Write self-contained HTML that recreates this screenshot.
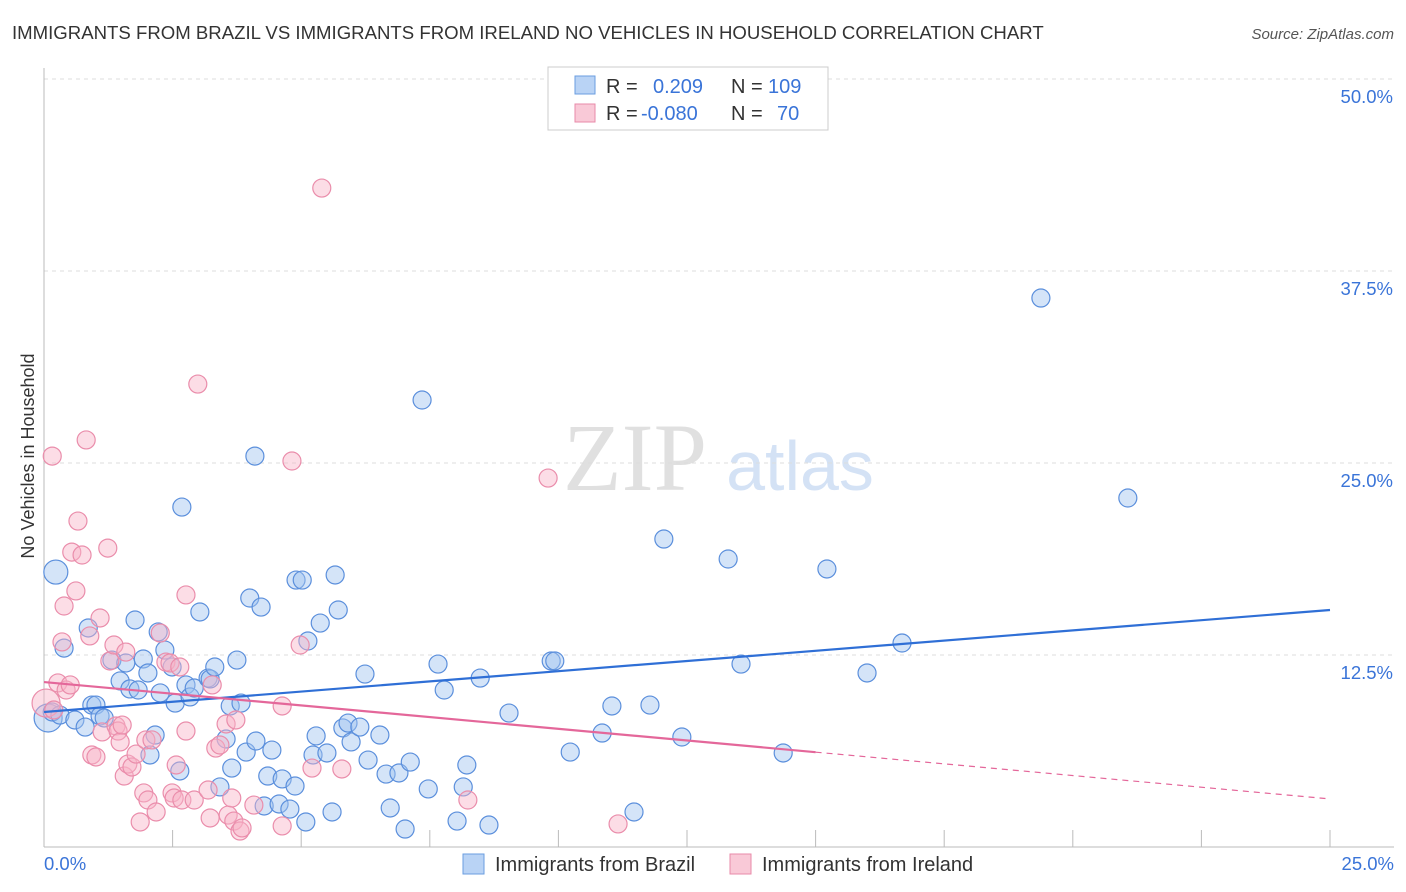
<!DOCTYPE html>
<html><head><meta charset="utf-8"><style>
body{margin:0;background:#fff;font-family:"Liberation Sans",sans-serif}
svg{display:block}
</style></head><body>
<svg id="c" width="1406" height="892">
<text x="12" y="39" font-size="18.6" fill="#333">IMMIGRANTS FROM BRAZIL VS IMMIGRANTS FROM IRELAND NO VEHICLES IN HOUSEHOLD CORRELATION CHART</text>
<text x="1394" y="39" font-size="15" fill="#555" font-style="italic" text-anchor="end">Source: ZipAtlas.com</text>
<text x="635" y="490" font-size="96" fill="#ccc" text-anchor="middle" font-family="Liberation Serif,serif" opacity="0.6">ZIP</text>
<text x="800" y="490" font-size="70" fill="#b8cff0" text-anchor="middle" opacity="0.6">atlas</text>
<text transform="translate(34,456) rotate(-90)" font-size="18" fill="#333" text-anchor="middle">No Vehicles in Household</text>
<g id="grid"></g><g id="axes"></g><g id="pts"></g><g id="lines"></g>
<g>
<rect x="548" y="67" width="280" height="63" fill="#fff" stroke="#ccc"/>
<rect x="575" y="76" width="20" height="18" fill="#b9d3f5" stroke="#6a9ee0"/>
<rect x="575" y="104" width="20" height="18" fill="#f9c9d7" stroke="#e88aa8"/>
<text x="606" y="93" font-size="20" fill="#333">R = <tspan fill="#3a74d8" x="653">0.209</tspan><tspan x="731">N = </tspan><tspan fill="#3a74d8" x="768">109</tspan></text>
<text x="606" y="120" font-size="20" fill="#333">R = <tspan fill="#3a74d8" x="641">-0.080</tspan><tspan x="731">N = </tspan><tspan fill="#3a74d8" x="777">70</tspan></text>
</g>
<g>
<rect x="463" y="854" width="21" height="20" fill="#b9d3f5" stroke="#6a9ee0"/>
<text x="495" y="871" font-size="20" fill="#333">Immigrants from Brazil</text>
<rect x="730" y="854" width="21" height="20" fill="#f9c9d7" stroke="#e88aa8"/>
<text x="762" y="871" font-size="20" fill="#333">Immigrants from Ireland</text>
</g>
<text x="44" y="870" font-size="18.5" fill="#3a74d8">0.0%</text>
<text x="1394" y="870" font-size="18.5" fill="#3a74d8" text-anchor="end">25.0%</text>
</svg>
<script>
const yTicks=[12.5,25,37.5,50];
const yTickLabels=["12.5%","25.0%","37.5%","50.0%"];
const xTicks=[0,2.5,5,7.5,10,12.5,15,17.5,20,22.5,25];
const brazilX=[0.08,0.23,0.16,0.31,0.39,0.60,0.80,0.86,0.93,1.01,1.09,1.17,1.32,1.48,1.59,1.67,1.77,1.83,1.93,2.02,2.06,2.16,2.22,2.26,2.35,2.49,2.55,2.64,2.68,2.76,2.84,2.92,3.03,3.19,3.23,3.32,3.42,3.54,3.62,3.65,3.75,3.83,3.93,4.00,4.10,4.12,4.22,4.28,4.35,4.43,4.57,4.63,4.78,4.88,4.90,5.02,5.09,5.13,5.23,5.29,5.37,5.50,5.60,5.66,5.72,5.81,5.91,5.97,6.14,6.24,6.30,6.53,6.65,6.73,6.90,7.02,7.12,7.35,7.47,7.66,7.78,8.03,8.15,8.22,8.48,8.65,9.04,9.86,9.93,10.23,10.85,11.04,11.47,11.78,12.05,12.40,13.30,13.55,14.37,15.22,16.00,16.68,19.38,21.07];
const brazilY=[8.40,17.90,8.79,8.59,12.95,8.27,7.81,14.26,9.24,9.24,8.53,8.40,12.17,10.81,11.98,10.29,14.78,10.22,12.24,11.33,5.99,7.29,14.0,10.03,12.82,11.72,9.37,4.95,22.13,10.55,9.77,10.35,15.30,11.0,10.94,11.72,3.91,7.03,9.18,5.14,12.17,9.37,6.18,16.21,25.45,6.90,15.62,2.67,4.62,6.31,2.80,4.43,2.47,3.97,17.38,17.38,1.63,13.41,5.99,7.23,14.58,6.12,2.28,17.71,15.43,7.75,8.07,6.84,7.81,11.26,5.66,7.29,4.75,2.54,4.82,1.17,5.53,29.10,3.78,11.91,10.22,1.69,3.91,5.34,11.0,1.43,8.72,12.11,12.11,6.18,7.42,9.18,2.28,9.24,20.05,7.16,18.75,11.91,6.12,18.10,11.33,13.28,35.74,22.72];
const brazilSize=[14,12];
const irelandX=[0.04,0.16,0.19,0.27,0.35,0.39,0.43,0.51,0.54,0.62,0.66,0.74,0.82,0.89,0.93,1.01,1.09,1.13,1.24,1.28,1.36,1.40,1.44,1.48,1.52,1.56,1.59,1.63,1.71,1.79,1.87,1.94,1.98,2.02,2.10,2.18,2.26,2.37,2.45,2.49,2.53,2.57,2.64,2.68,2.76,2.76,2.92,2.99,3.19,3.23,3.27,3.34,3.42,3.54,3.58,3.65,3.69,3.73,3.81,3.85,4.08,4.63,4.63,4.82,4.98,5.21,5.40,5.79,8.24,9.80,11.16];
const irelandY=[9.37,25.45,8.92,10.68,13.35,15.69,10.22,10.55,19.20,16.67,21.22,19.01,26.50,13.74,5.99,5.86,14.91,7.49,19.46,12.11,13.15,7.88,7.55,6.84,7.94,4.62,12.69,5.40,5.21,6.05,1.63,3.52,6.97,3.06,6.97,2.28,13.93,12.04,11.98,3.52,3.19,5.34,11.72,3.06,16.41,7.55,3.06,30.14,3.71,1.89,10.55,6.44,6.64,8.01,2.08,3.19,1.69,8.27,1.04,1.24,2.73,1.37,9.18,25.13,13.15,5.14,42.90,5.08,3.06,24.02,1.50];
const irelandSize=[14];
const brazilTrend=[8.79,15.43];
const irelandTrend=[10.74,3.13];
const irelandSolidEnd=15;

const X=v=>44+v*(1330-44)/25;
const Y=v=>847-v*15.36;
const NS="http://www.w3.org/2000/svg";
function mk(tag,attrs,parent){const e=document.createElementNS(NS,tag);for(const k in attrs)e.setAttribute(k,attrs[k]);document.getElementById(parent).appendChild(e);return e;}
yTicks.forEach((t,i)=>{
  const l=mk('line',{x1:44,x2:1394,y1:Y(t),y2:Y(t),stroke:'#ddd','stroke-dasharray':'4,4'},'grid');
  
  
  const tx=mk('text',{x:1393,y:Y(t)+24,'font-size':18.5,fill:'#3a74d8','text-anchor':'end'},'grid');
  tx.textContent=yTickLabels[i];
  
  
});
const ax=mk('line',{x1:44,x2:44,y1:68,y2:847,stroke:'#bbb'},'axes');


const bx=mk('line',{x1:44,x2:1394,y1:847,y2:847,stroke:'#bbb'},'axes');


xTicks.forEach(t=>{
  const l=mk('line',{x1:X(t),x2:X(t),y1:830,y2:847,stroke:'#bbb'},'axes');
  
  
});
brazilX.forEach((x,i)=>{
  const c=mk('circle',{cx:X(x),cy:Y(brazilY[i]),r:brazilSize[i]||9,fill:'rgba(160,195,240,0.45)',stroke:'#5b8fdc','stroke-width':1.2},'pts');
  
  
});
irelandX.forEach((x,i)=>{
  const c=mk('circle',{cx:X(x),cy:Y(irelandY[i]),r:irelandSize[i]||9,fill:'rgba(248,180,200,0.45)',stroke:'#ea8dab','stroke-width':1.2},'pts');
  
  
});
const bl=mk('line',{x1:X(0),y1:Y(brazilTrend[0]),x2:X(25),y2:Y(brazilTrend[1]),stroke:'#2f6fd6','stroke-width':2.2},'lines');


const ym=irelandTrend[0]+(irelandTrend[1]-irelandTrend[0])*irelandSolidEnd/25;
const il=mk('line',{x1:X(0),y1:Y(irelandTrend[0]),x2:X(irelandSolidEnd),y2:Y(ym),stroke:'#e4679a','stroke-width':2.2},'lines');


const id=mk('line',{x1:X(irelandSolidEnd),y1:Y(ym),x2:X(25),y2:Y(irelandTrend[1]),stroke:'#e4679a','stroke-width':1.2,'stroke-dasharray':'6,5'},'lines');


</script>
</body></html>
